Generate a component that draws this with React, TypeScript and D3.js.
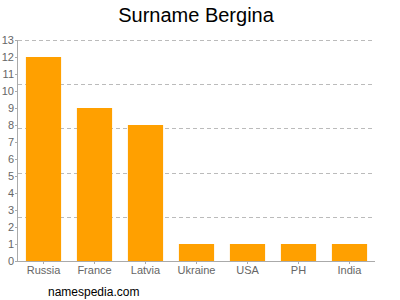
import React from "react";
import * as d3 from "d3";

const categories = ["Russia", "France", "Latvia", "Ukraine", "USA", "PH", "India"];
const values = [12, 9, 8, 1, 1, 1, 1];
const yTicks = [0, 1, 2, 3, 4, 5, 6, 7, 8, 9, 10, 11, 12, 13];
const gridValues = [2.6, 5.2, 7.8, 10.4, 13];

export default function App() {
  const W = 400, H = 300;
  const left = 18, right = 375, top = 40, bottom = 261;
  const x = d3.scaleBand<string>().domain(categories).range([left, right]).paddingInner(0.31).paddingOuter(0.155);
  const y = d3.scaleLinear().domain([0, 13]).range([bottom, top]);
  const font = "Arial, 'Liberation Sans', sans-serif";
  return (
    <svg width={W} height={H} style={{ position: "absolute", left: 0, top: 0 }} fontFamily={font}>
      <rect width={W} height={H} fill="#fff" />
      <text x={196} y={22} textAnchor="middle" fontSize={20} fill="#000">Surname Bergina</text>
      {gridValues.map((g) => (
        <line key={g} x1={left} x2={right} y1={Math.round(y(g)) + 0.5} y2={Math.round(y(g)) + 0.5} stroke="#bbb" strokeDasharray="4,3" />
      ))}
      {categories.map((c, i) => (
        <rect key={c} x={x(c)} y={y(values[i])} width={x.bandwidth()} height={bottom - y(values[i])} fill="#ffa000" />
      ))}
      <line x1={left - 0.5} x2={left - 0.5} y1={top} y2={bottom} stroke="#aaa" />
      <line x1={left} x2={right} y1={bottom + 0.5} y2={bottom + 0.5} stroke="#aaa" />
      {yTicks.map((t) => (
        <g key={t}>
          <line x1={left - 3} x2={left} y1={Math.round(y(t)) + 0.5} y2={Math.round(y(t)) + 0.5} stroke="#aaa" />
          <text x={14} y={y(t) + 4} textAnchor="end" fontSize={11} fill="#666">{t}</text>
        </g>
      ))}
      {categories.map((c) => (
        <g key={c}>
          <line x1={x(c)! + x.bandwidth() / 2} x2={x(c)! + x.bandwidth() / 2} y1={bottom} y2={bottom + 3} stroke="#aaa" />
          <text x={x(c)! + x.bandwidth() / 2} y={274} textAnchor="middle" fontSize={11} fill="#666">{c}</text>
        </g>
      ))}
      <text x={48} y={296} fontSize={12} fill="#000">namespedia.com</text>
    </svg>
  );
}
